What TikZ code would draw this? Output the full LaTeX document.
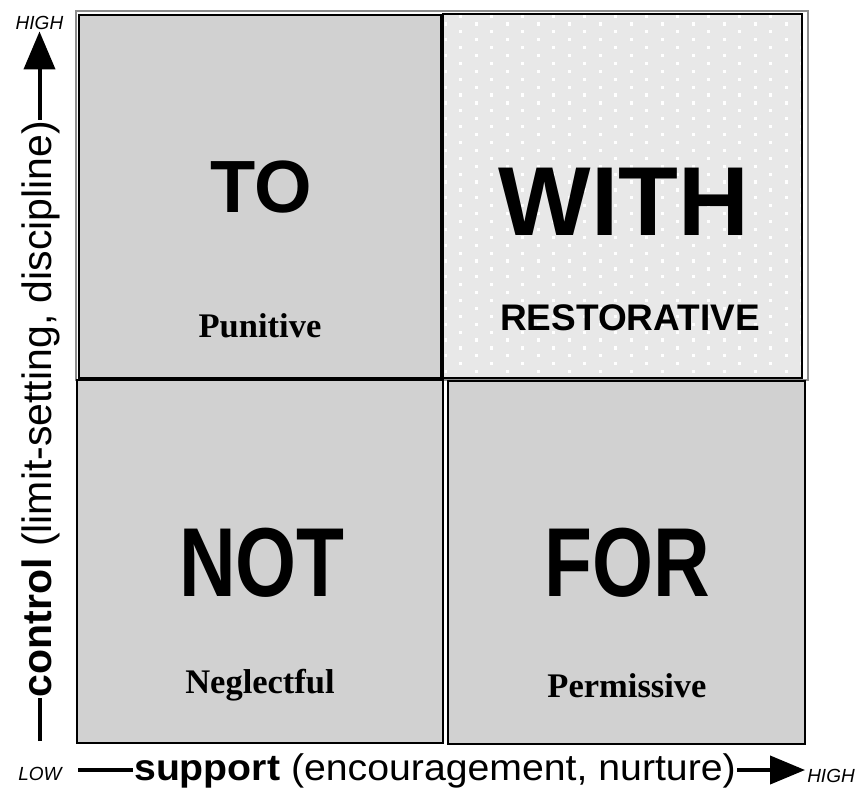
\documentclass[tikz,border=0pt]{standalone}
\usepackage{fontspec}
\setmainfont{Liberation Sans}
\newfontfamily\timesfont{Liberation Serif}
\usetikzlibrary{arrows.meta}

\begin{document}
\begin{tikzpicture}[
	x=1pt, y=-1pt,
	quad/.style={
		rectangle, draw=black, line width=2.6pt,
		fill=black!18, inner sep=0pt, outer sep=0pt
	},
	bigword/.style={anchor=base, inner sep=0pt, font=\fontsize{98}{98}\selectfont\bfseries},
	kind/.style={anchor=base, inner sep=0pt, font=\timesfont\fontsize{34.5}{34.5}\selectfont\bfseries},
	axislabel/.style={anchor=base, inner sep=1pt},
	axisend/.style={inner sep=2pt, font=\fontsize{19}{19}\selectfont\itshape},
	axisline/.style={line width=4pt},
	axisarrow/.style={-{Triangle[length=38pt,width=31pt]}, line width=4pt}
	]
	
	\useasboundingbox (0,0) rectangle (861,789);
	
	%% -- faint frame round the upper half -----------------------------------
	\draw[black!45, line width=1.2pt] (76,11) rectangle (808,380);
	
	%% -- the four quadrants ---------------------------------------------------
	\node[quad, minimum width=362pt, minimum height=363pt] (to)   at (260,196.5) {};
	\node[quad, minimum width=359pt, minimum height=364pt, fill=black!9] (with) at (622.5,196) {};
	\node[quad, minimum width=366pt, minimum height=363pt] (not)  at (260,561.5) {};
	\node[quad, minimum width=357pt, minimum height=363pt] (for)  at (626.5,562.5) {};
	
	%% dotted fill of the WITH box
	\begin{scope}
		\clip ([shift={(1.5,-1.5)}]with.south west) rectangle ([shift={(-1.5,1.5)}]with.north east);
		\foreach \r in {0,...,47}
		\foreach \c in {0,...,12} {
			\pgfmathsetmacro{\dx}{429.7 + 31*\c + 15.5*mod(\r,2)}
			\pgfmathsetmacro{\dy}{16.1 + 7.9*\r}
			\fill[white] (\dx-1.6,\dy-1.6) rectangle (\dx+1.6,\dy+1.6);
		}
	\end{scope}
	
	%% -- words in the quadrants ---------------------------------------------
	\node[bigword, font=\fontsize{74}{74}\selectfont\bfseries] (toword) at (261,212) {TO};
	\node[bigword] (withword) at (624,235) {WITH};
	\node[bigword] (notword)  at (262,596) {\scalebox{0.8}[1]{NOT}};
	\node[bigword] (forword)  at (627,596) {\scalebox{0.8}[1]{FOR}};
	
	\node[kind] (punitive) at (260,337) {Punitive};
	\node[anchor=base, inner sep=0pt, font=\fontsize{37}{37}\selectfont\bfseries] (restor) at (630,330) {RESTORATIVE};
	\node[kind] (neglect) at (260,693) {Neglectful};
	\node[kind] (permiss) at (627,697) {Permissive};
	
	%% -- vertical axis --------------------------------------------------------
	\node[axisend] (yhigh) at (39.5,22.5) {HIGH};
	\node[axislabel, rotate=90, font=\fontsize{41}{41}\selectfont] (ylabel) at (51,409)
		{\textbf{control} (limit-setting, discipline)};
	\coordinate (ylow) at (39.5,741);
	
	\draw[axisline] (ylow) -- (ylow |- ylabel.west);
	\draw[axisarrow] (yhigh.south |- ylabel.east) -- (yhigh.south);
	
	%% -- horizontal axis ------------------------------------------------------
	\node[axisend] (xlow) at (40,774) {LOW};
	\node[axisend] (xhigh) at (831,776) {HIGH};
	\node[axislabel, font=\fontsize{37}{37}\selectfont] (xlabel) at (435,780)
		{\scalebox{1.06}[1]{\textbf{support} (encouragement, nurture)}};
	\coordinate (xstart) at (78,770);
	
	\draw[axisline] (xstart) -- (xlabel.west |- xstart);
	\draw[axisarrow, -{Triangle[length=35pt,width=28pt]}] (xlabel.east |- xstart) -- (xhigh.west |- xstart);
	
\end{tikzpicture}
\end{document}
